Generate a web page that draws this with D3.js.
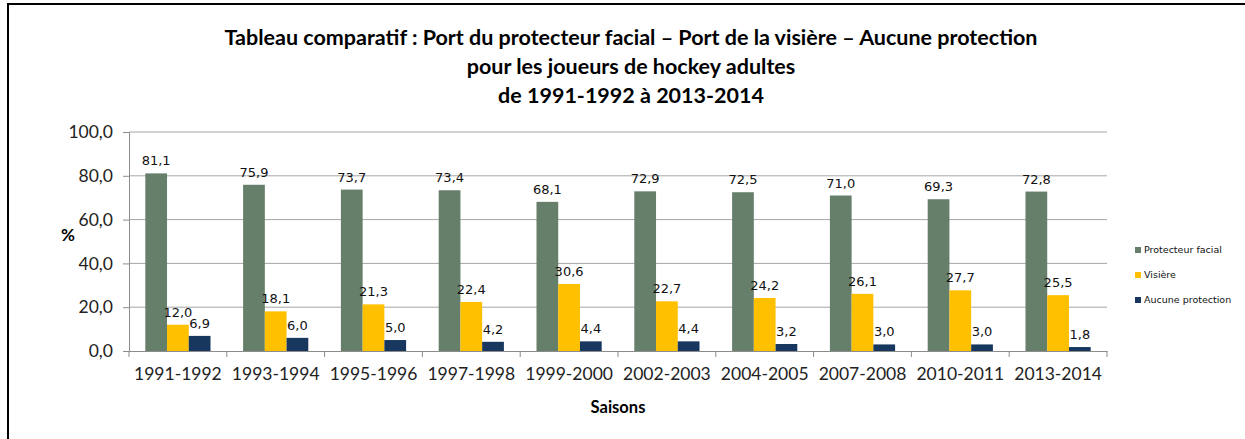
<!DOCTYPE html>
<html>
<head>
<meta charset="utf-8">
<script src="https://cdn.jsdelivr.net/npm/d3@7"></script>
<style>
  body { margin: 0; background: #fff; }
  svg { display: block; }
  .title { font-family: Lato, "Open Sans", sans-serif; font-weight: bold; font-size: 21.5px; fill: #000; }
  .tick text { font-family: Lato, "Open Sans", sans-serif; font-size: 17.5px; fill: #222; }
  .lbl { font-family: "DejaVu Sans", sans-serif; font-size: 13px; fill: #111; }
  .legend { font-family: "DejaVu Sans", sans-serif; font-size: 9.5px; fill: #111; }
</style>
</head>
<body>
<script>
const seasons = ['1991-1992', '1993-1994', '1995-1996', '1997-1998', '1999-2000',
                 '2002-2003', '2004-2005', '2007-2008', '2010-2011', '2013-2014'];
const seriesNames = ['Protecteur facial', 'Visière', 'Aucune protection'];
const facial = [81.1, 75.9, 73.7, 73.4, 68.1, 72.9, 72.5, 71.0, 69.3, 72.8];
const visiere = [12.0, 18.1, 21.3, 22.4, 30.6, 22.7, 24.2, 26.1, 27.7, 25.5];
const aucune = [6.9, 6.0, 5.0, 4.2, 4.4, 4.4, 3.2, 3.0, 3.0, 1.8];
const yTicks = [0, 20, 40, 60, 80, 100];
const colors = ['#667f6b', '#ffc000', '#17375e'];

const W = 1245, H = 439;
const svg = d3.select('body').append('svg').attr('width', W).attr('height', H);

// outer frame (right and bottom are cut off in the original)
svg.append('rect')
  .attr('x', 8).attr('y', 4).attr('width', W).attr('height', H)
  .attr('fill', 'none').attr('stroke', '#000').attr('stroke-width', 2);

const titleLines = [
  'Tableau comparatif : Port du protecteur facial – Port de la visière – Aucune protection',
  'pour les joueurs de hockey adultes',
  'de 1991-1992 à 2013-2014'
];
svg.selectAll('.title').data(titleLines).enter().append('text')
  .attr('class', 'title')
  .attr('x', 631).attr('y', (d, i) => 45 + i * 29)
  .attr('text-anchor', 'middle')
  .text(d => d);

const plotL = 129, plotR = 1107, plotT = 132, plotB = 351;

const x = d3.scaleBand().domain(seasons).range([plotL, plotR]);
const inner = d3.scaleBand().domain(d3.range(3)).range([0, x.bandwidth()]).paddingOuter(0.75);
const y = d3.scaleLinear().domain([0, 100]).range([plotB, plotT]);

// gridlines
svg.append('g').selectAll('line').data(yTicks.slice(1)).enter().append('line')
  .attr('x1', plotL).attr('x2', plotR)
  .attr('y1', d => y(d)).attr('y2', d => y(d))
  .attr('stroke', '#a6a6a6').attr('stroke-width', 1);

const yAxis = svg.append('g')
  .attr('transform', `translate(${plotL},0)`)
  .call(d3.axisLeft(y).tickValues(yTicks).tickSize(6).tickPadding(10)
    .tickFormat(d => d3.format('.1f')(d).replace('.', ',')));
yAxis.selectAll('line, path').attr('stroke', '#8c8c8c');

const xAxis = svg.append('g')
  .attr('transform', `translate(0,${plotB})`)
  .call(d3.axisBottom(x).tickSize(0).tickPadding(17));
xAxis.select('path').attr('stroke', '#8c8c8c');
xAxis.selectAll('.sep').data(d3.range(seasons.length + 1)).enter().append('line')
  .attr('class', 'sep')
  .attr('x1', i => plotL + i * x.step()).attr('x2', i => plotL + i * x.step())
  .attr('y1', 0).attr('y2', 6)
  .attr('stroke', '#8c8c8c');

const series = [facial, visiere, aucune];
const rows = seasons.map((s, i) => ({ s, vals: series.map(a => a[i]) }));

const groups = svg.append('g').selectAll('g').data(rows).enter().append('g')
  .attr('transform', d => `translate(${x(d.s)},0)`);

groups.selectAll('rect').data(d => d.vals).enter().append('rect')
  .attr('x', (v, j) => inner(j))
  .attr('width', inner.bandwidth())
  .attr('y', v => y(v))
  .attr('height', v => plotB - y(v))
  .attr('fill', (v, j) => colors[j]);

groups.selectAll('.lbl').data(d => d.vals).enter().append('text')
  .attr('class', 'lbl')
  .attr('x', (v, j) => inner(j) + inner.bandwidth() / 2)
  .attr('y', v => y(v) - 8)
  .attr('text-anchor', 'middle')
  .text(v => d3.format('.1f')(v).replace('.', ','));

// axis titles
svg.append('text').attr('x', 61).attr('y', 241)
  .attr('font-family', 'Lato, sans-serif').attr('font-weight', 'bold').attr('font-size', 17)
  .text('%');
svg.append('text').attr('x', 618).attr('y', 413).attr('text-anchor', 'middle')
  .attr('font-family', 'Lato, sans-serif').attr('font-weight', 'bold').attr('font-size', 16.5)
  .text('Saisons');

// legend
const leg = svg.append('g').selectAll('g').data(seriesNames).enter().append('g')
  .attr('transform', (d, i) => `translate(1135,${251 + i * 25})`);
leg.append('rect').attr('x', 0).attr('y', -4).attr('width', 6).attr('height', 6)
  .attr('fill', (d, i) => colors[i]);
leg.append('text').attr('class', 'legend').attr('x', 9).attr('y', 2).text(d => d);
</script>
</body>
</html>
